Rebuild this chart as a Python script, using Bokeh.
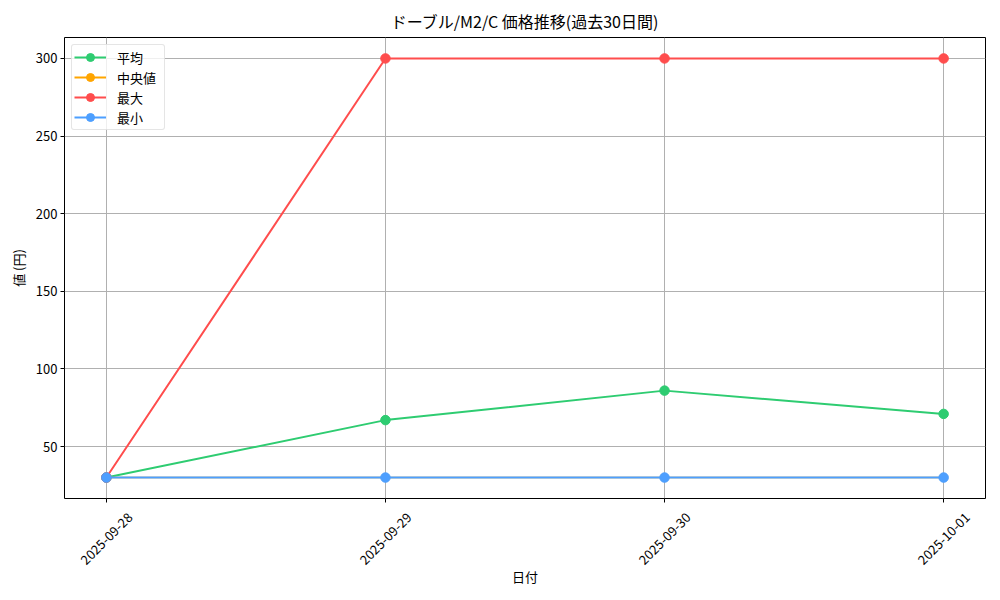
from bokeh.plotting import figure
from bokeh.models import FixedTicker, Range1d, Legend, LegendItem, ColumnDataSource
from bokeh.core.properties import value
from bokeh.embed import file_html
from bokeh.resources import INLINE

dates = ["2025-09-28", "2025-09-29", "2025-09-30", "2025-10-01"]
avg_vals = [30, 67, 86, 71]
median_vals = [30, 30, 30, 30]
max_vals = [30, 300, 300, 300]
min_vals = [30, 30, 30, 30]
y_ticks = [50, 100, 150, 200, 250, 300]

FONT = "Noto Sans CJK JP"
x = list(range(len(dates)))
Y0, Y1 = 16.5, 313.5
NAN = float("nan")

p = figure(width=992, height=592, output_backend="svg", toolbar_location=None,
           x_range=Range1d(-0.15, 3.15), y_range=Range1d(Y0, Y1),
           min_border_left=64, min_border_right=7, min_border_top=37, min_border_bottom=94)

p.title.text = "ドーブル/M2/C 価格推移(過去30日間)"
p.title.align = "center"
p.title.text_font = FONT
p.title.text_font_size = "16px"
p.title.text_font_style = "normal"
p.title.text_color = "black"

series = [("平均", avg_vals, "#2ecc71"),
          ("中央値", median_vals, "#ffa500"),
          ("最大", max_vals, "#ff4d4d"),
          ("最小", min_vals, "#4d9fff")]

items = []
for label, vals, color in series:
    if label == "中央値":
        # hidden under the 最小 series; drawn slightly thinner so that it leaves no fringe,
        # and shown in the legend at full size through legend-only renderers
        p.line(x, vals, line_color=color, line_width=1.4)
        p.scatter(x, vals, size=8, fill_color=color, line_color=color)
        l = p.line([NAN], [NAN], line_color=color, line_width=2)
        c = p.scatter([NAN], [NAN], size=9.5, fill_color=color, line_color=color)
    else:
        l = p.line(x, vals, line_color=color, line_width=2)
        c = p.scatter(x, vals, size=9.5, fill_color=color, line_color=color)
    items.append(LegendItem(label=label, renderers=[l, c]))

legend = Legend(items=items, location="top_left")
legend.label_text_font = FONT
legend.label_text_font_size = "13px"
legend.label_text_color = "black"
legend.border_line_color = "#cccccc"
legend.border_line_width = 1
legend.border_radius = 3
legend.background_fill_alpha = 0.8
legend.glyph_width = 32
legend.glyph_height = 20
legend.spacing = 0
legend.padding = 2
legend.margin = 7
legend.label_standoff = 11
legend.label_width = 45
legend.label_height = 20
p.add_layout(legend)

# x tick labels: rotated 45 deg and centred under each tick (drawn as text, not clipped)
p.xaxis.ticker = FixedTicker(ticks=x)
p.xaxis.major_label_overrides = {i: "" for i in x}
lab_src = ColumnDataSource(dict(x=x, y=[Y0] * len(x), text=dates))
p.text(x="x", y="y", text="text", source=lab_src, level="overlay",
       angle=0.785398, text_align="center", text_baseline="middle", y_offset=40,
       text_font=value(FONT), text_font_size="13px", text_color="black")

p.yaxis.ticker = FixedTicker(ticks=y_ticks)

for ax in (p.xaxis, p.yaxis):
    ax.major_label_text_font = FONT
    ax.major_label_text_font_size = "13px"
    ax.major_label_text_color = "black"
    ax.major_label_standoff = 3
    ax.axis_label_text_font = FONT
    ax.axis_label_text_font_size = "13px"
    ax.axis_label_text_font_style = "normal"
    ax.axis_label_text_color = "black"
    ax.axis_line_color = None
    ax.major_tick_line_color = "black"
    ax.major_tick_out = 4
    ax.major_tick_in = 0
    ax.minor_tick_line_color = None

p.xaxis.axis_label = "日付"
p.xaxis.axis_label_standoff = 64
p.yaxis.axis_label = "値 (円)"

p.outline_line_color = "black"
p.outline_line_width = 1
p.outline_line_alpha = 1.0
p.grid.grid_line_color = "#b0b0b0"
p.grid.grid_line_width = 1
p.background_fill_color = "white"
p.border_fill_color = "white"

open("out.html", "w").write(file_html(p, INLINE))
